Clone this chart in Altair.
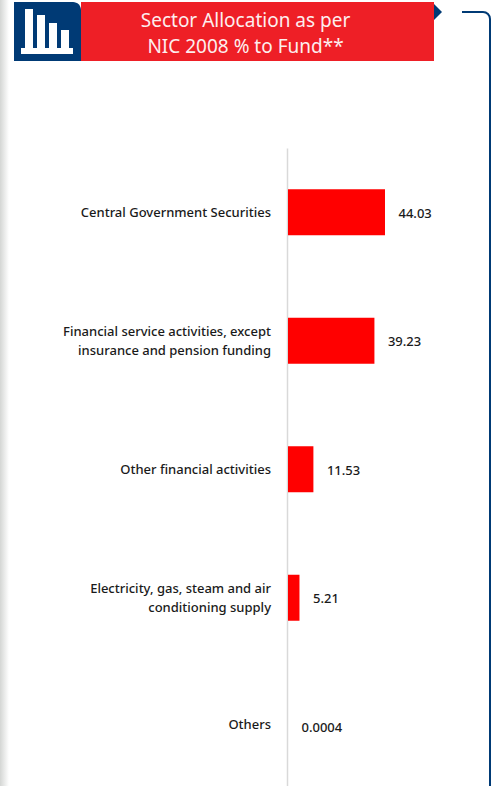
import math

import altair as alt
import pandas as pd

# Sector names ("|" marks a line break in the axis label) and their share of the fund
sectors = [
    "Central Government Securities",
    "Financial service activities, except|insurance and pension funding",
    "Other financial activities",
    "Electricity, gas, steam and air|conditioning supply",
    "Others",
]
shares = [44.03, 39.23, 11.53, 5.21, 0.0004]
share_labels = ["44.03", "39.23", "11.53", "5.21", "0.0004"]
title_lines = ["Sector Allocation as per", "NIC 2008 % to Fund**"]

FONT = "Noto Sans"
RED = "#ee1f26"
BLUE = "#003a75"
LEFT = 288  # horizontal position of the zero baseline on the page
PAGE_W, PAGE_H = 497, 786

table = pd.DataFrame({"sector": sectors, "share": shares, "label": share_labels})
stub = pd.DataFrame({"k": [0]})

x_scale = alt.Scale(domain=[0, (PAGE_W - LEFT) / 2.203], nice=False, zero=True)
y_scale = alt.Scale(domain=sectors, range=[148, 790.5], paddingInner=0.642, paddingOuter=0.321)


def box(x0, x1, y0, y1, color, **mark):
    """A page-positioned rectangle; x values are page pixels."""
    return alt.Chart(stub).mark_rect(color=color, **mark).encode(
        x=alt.value(x0 - LEFT), x2=alt.value(x1 - LEFT), y=alt.value(y0), y2=alt.value(y1)
    )


bars = alt.Chart(table).mark_bar(color="#ff0000").encode(
    x=alt.X("share:Q", scale=x_scale, axis=None),
    y=alt.Y(
        "sector:N",
        scale=y_scale,
        sort=sectors,
        title=None,
        axis=alt.Axis(
            orient="left",
            offset=1,
            ticks=False,
            grid=False,
            domainColor="#d9d9d9",
            domainWidth=1.5,
            labelFont=FONT,
            labelFontSize=13,
            labelFontWeight=500,
            labelColor="#1a1a1a",
            labelPadding=16.5,
            labelLimit=300,
            # two-line labels are lifted so that the pair centres on its bar
            labelOffset={
                "condition": [
                    {"test": "indexof(datum.value, '|') >= 0", "value": -9},
                    {"test": "datum.value === 'Others'", "value": -1},
                ],
                "value": 1,
            },
            labelLineHeight=19,
            labelExpr="split(datum.label, '|')",
        ),
    ),
)

values = alt.Chart(table).mark_text(
    align="left", baseline="middle", dx=13.5, dy=1.5, font=FONT, fontSize=13,
    fontWeight=500, color="#1a1a1a",
).encode(
    x=alt.X("share:Q", scale=x_scale, axis=None),
    y=alt.Y("sector:N", scale=y_scale, sort=sectors, title=None),
    text="label:N",
)

# Left page-edge shadow
shadow = box(
    0, 9, 0, PAGE_H,
    alt.Gradient(
        gradient="linear", x1=0, x2=1, y1=0, y2=0,
        stops=[alt.GradientStop(color="#d4d6d4", offset=0), alt.GradientStop(color="#ffffff", offset=1)],
    ),
)

# Header banner with bar-chart badge
banner = box(81, 434, 2, 61, RED)
badge = box(14, 81, 2, 61, BLUE, cornerRadiusTopRight=8)
icon = [
    box(25, 33, 9, 50, "#ffffff"),
    box(37, 45, 15, 50, "#ffffff"),
    box(49, 57, 23, 50, "#ffffff"),
    box(61, 69, 30, 50, "#ffffff"),
    box(21, 73, 48, 54, "#ffffff"),
]
pointer = alt.Chart(stub).mark_point(
    shape="M0,-1L1,0L0,1Z", size=256, filled=True, color=BLUE, opacity=1
).encode(x=alt.value(434 - LEFT), y=alt.value(12))

heading = [
    alt.Chart(stub).mark_text(
        text=line, font=FONT, fontSize=19, color="#fdeeee", align="center", baseline="alphabetic"
    ).encode(x=alt.value(245.5 - LEFT), y=alt.value(base))
    for line, base in zip(title_lines, [27, 53])
]

# Bracket running down the right-hand side
bracket_top = alt.Chart(stub).mark_rule(color=BLUE, strokeWidth=2).encode(
    x=alt.value(462 - LEFT), x2=alt.value(483 - LEFT), y=alt.value(12)
)
bracket_side = alt.Chart(stub).mark_rule(color=BLUE, strokeWidth=2).encode(
    x=alt.value(490 - LEFT), y=alt.value(19), y2=alt.value(PAGE_H)
)
bracket_corner = alt.Chart(stub).mark_arc(
    radius=7, radius2=7, theta=0, theta2=math.pi / 2, stroke=BLUE, strokeWidth=2, filled=False
).encode(x=alt.value(483 - LEFT), y=alt.value(19))

chart = alt.layer(
    shadow, banner, badge, *icon, pointer, *heading,
    bracket_top, bracket_side, bracket_corner, bars, values,
).properties(
    width=PAGE_W - LEFT,
    height=PAGE_H,
    padding={"left": LEFT, "top": 0, "right": 0, "bottom": 0},
    autosize=alt.AutoSizeParams(type="none"),
    background="#ffffff",
).configure_view(stroke=None)

chart.save("out.html", embed_options={"renderer": "svg", "actions": False})
